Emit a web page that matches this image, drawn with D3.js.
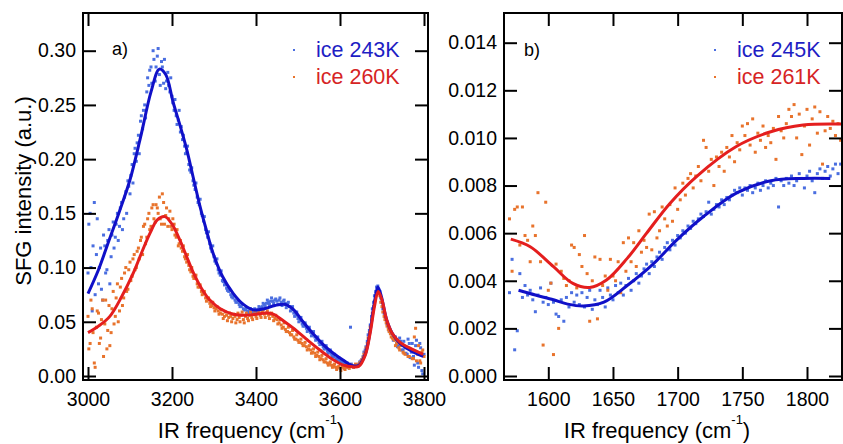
<!DOCTYPE html>
<html><head><meta charset="utf-8">
<script src="https://cdn.jsdelivr.net/npm/d3@7"></script>
<style>body{margin:0;background:#fff}svg{display:block;font-family:Arial,"Liberation Sans",sans-serif}</style>
</head><body><svg id="c" width="843" height="444"></svg>
<script>
// ---------- Panel a data (two scans per temperature) ----------
const freqA = [3000,3005,3010,3015,3020,3025,3030,3035,3040,3045,3050,3055,3060,3065,3070,3075,3080,3085,3090,3095,
3100,3105,3110,3115,3120,3125,3130,3135,3140,3145,3150,3155,3160,3165,3170,3175,3180,3185,3190,3195,
3200,3205,3210,3215,3220,3225,3230,3235,3240,3245,3250,3255,3260,3265,3270,3275,3280,3285,3290,3295,
3300,3305,3310,3315,3320,3325,3330,3335,3340,3345,3350,3355,3360,3365,3370,3375,3380,3385,3390,3395,
3400,3405,3410,3415,3420,3425,3430,3435,3440,3445,3450,3455,3460,3465,3470,3475,3480,3485,3490,3495,
3500,3505,3510,3515,3520,3525,3530,3535,3540,3545,3550,3555,3560,3565,3570,3575,3580,3585,3590,3595,
3600,3605,3610,3615,3620,3625,3630,3635,3640,3645,3650,3655,3660,3665,3670,3675,3680,3685,3690,3695,
3700,3705,3710,3715,3720,3725,3730,3735,3740,3745,3750,3755,3760,3765,3770,3775,3780,3785,3790,3795,3800];
const sfg243 = [0.095,0.150,0.060,0.160,0.112,0.085,0.118,0.070,0.120,0.098,0.135,0.110,0.142,0.128,0.150,0.138,0.160,0.145,0.170,0.180,
0.168,0.195,0.205,0.198,0.222,0.235,0.228,0.250,0.262,0.268,0.285,0.300,0.272,0.295,0.278,0.290,0.270,0.265,0.280,0.262,
0.258,0.245,0.240,0.236,0.225,0.218,0.212,0.206,0.195,0.188,0.180,0.172,0.165,0.158,0.150,0.143,0.135,0.128,0.122,0.115,
0.110,0.104,0.098,0.093,0.088,0.084,0.081,0.078,0.075,0.072,0.070,0.068,0.066,0.064,0.062,0.061,0.060,0.060,0.059,0.059,
0.060,0.061,0.063,0.064,0.066,0.067,0.068,0.069,0.069,0.070,0.069,0.070,0.068,0.069,0.067,0.066,0.064,0.061,0.058,0.056,
0.053,0.051,0.048,0.046,0.044,0.042,0.040,0.038,0.036,0.034,0.031,0.029,0.027,0.025,0.023,0.022,0.020,0.018,0.016,0.015,
0.014,0.013,0.012,0.011,0.010,0.045,0.009,0.009,0.010,0.011,0.014,0.018,0.024,0.032,0.042,0.055,0.068,0.078,0.083,0.078,
0.068,0.058,0.052,0.045,0.040,0.036,0.034,0.030,0.028,0.032,0.024,0.026,0.020,0.030,0.022,0.018,0.028,0.012,0.030,0.005,0.020];
const sfg260 = [0.055,0.030,0.062,0.012,0.045,0.058,0.035,0.070,0.048,0.025,0.065,0.040,0.078,0.055,0.085,0.060,0.090,0.072,0.100,0.080,
0.105,0.092,0.112,0.100,0.118,0.125,0.112,0.140,0.128,0.150,0.138,0.158,0.142,0.155,0.165,0.140,0.160,0.148,0.138,0.152,
0.135,0.140,0.128,0.120,0.125,0.115,0.110,0.105,0.102,0.096,0.092,0.090,0.085,0.082,0.078,0.076,0.072,0.070,0.067,0.065,
0.063,0.062,0.060,0.058,0.057,0.055,0.056,0.054,0.055,0.053,0.055,0.052,0.054,0.056,0.052,0.055,0.053,0.056,0.054,0.057,
0.055,0.058,0.056,0.059,0.057,0.058,0.056,0.057,0.055,0.053,0.052,0.049,0.047,0.045,0.043,0.041,0.040,0.038,0.036,0.034,
0.033,0.031,0.030,0.028,0.027,0.025,0.024,0.022,0.021,0.019,0.018,0.016,0.015,0.013,0.012,0.011,0.010,0.009,0.008,0.008,
0.007,0.008,0.007,0.008,0.008,0.009,0.009,0.009,0.010,0.011,0.013,0.017,0.022,0.030,0.040,0.052,0.064,0.074,0.078,0.074,
0.064,0.055,0.049,0.043,0.039,0.035,0.033,0.030,0.026,0.028,0.022,0.020,0.026,0.018,0.024,0.016,0.044,0.020,0.014,0.022,0.018];
const freqA2 = [3002,3007,3012,3017,3022,3027,3032,3037,3042,3047,3052,3057,3062,3067,3072,3077,3082,3087,3092,3097,
3102,3107,3112,3117,3122,3127,3132,3137,3142,3147,3152,3157,3162,3167,3172,3177,3182,3187,3192,3197,
3202,3207,3212,3217,3222,3227,3232,3237,3242,3247,3252,3257,3262,3267,3272,3277,3282,3287,3292,3297,
3302,3307,3312,3317,3322,3327,3332,3337,3342,3347,3352,3357,3362,3367,3372,3377,3382,3387,3392,3397,
3402,3407,3412,3417,3422,3427,3432,3437,3442,3447,3452,3457,3462,3467,3472,3477,3482,3487,3492,3497,
3502,3507,3512,3517,3522,3527,3532,3537,3542,3547,3552,3557,3562,3567,3572,3577,3582,3587,3592,3597,
3602,3607,3612,3617,3622,3627,3632,3637,3642,3647,3652,3657,3662,3667,3672,3677,3682,3687,3692,3697,
3702,3707,3712,3717,3722,3727,3732,3737,3742,3747,3752,3757,3762,3767,3772,3777,3782,3787,3792,3797];
const sfg243s2 = [0.140,0.100,0.120,0.075,0.145,0.100,0.080,0.130,0.095,0.125,0.085,0.130,0.118,0.140,0.125,0.155,0.135,0.165,0.150,0.175,
0.185,0.178,0.210,0.215,0.205,0.240,0.245,0.238,0.275,0.282,0.270,0.292,0.285,0.302,0.268,0.285,0.292,0.272,0.268,0.275,
0.252,0.255,0.232,0.245,0.230,0.222,0.205,0.212,0.190,0.192,0.176,0.178,0.160,0.163,0.148,0.147,0.132,0.133,0.118,0.120,
0.106,0.108,0.095,0.097,0.087,0.086,0.079,0.080,0.073,0.074,0.068,0.069,0.064,0.066,0.061,0.063,0.058,0.062,0.057,0.062,
0.058,0.064,0.061,0.067,0.064,0.070,0.066,0.072,0.067,0.071,0.066,0.072,0.065,0.070,0.063,0.068,0.060,0.064,0.055,0.059,
0.050,0.054,0.046,0.049,0.041,0.045,0.037,0.041,0.033,0.036,0.029,0.032,0.025,0.028,0.021,0.024,0.018,0.020,0.015,0.017,
0.012,0.014,0.010,0.012,0.009,0.011,0.008,0.010,0.009,0.013,0.015,0.022,0.027,0.038,0.047,0.062,0.074,0.082,0.080,0.072,
0.062,0.055,0.048,0.042,0.040,0.033,0.036,0.027,0.035,0.024,0.032,0.021,0.034,0.017,0.030,0.010,0.033,0.008,0.026,0.002];
const sfg260s2 = [0.025,0.070,0.040,0.008,0.060,0.030,0.052,0.018,0.070,0.042,0.028,0.062,0.048,0.072,0.050,0.082,0.065,0.095,0.078,0.098,
0.088,0.108,0.098,0.115,0.108,0.128,0.138,0.122,0.145,0.135,0.155,0.145,0.158,0.150,0.145,0.168,0.140,0.155,0.145,0.138,
0.145,0.130,0.135,0.122,0.118,0.120,0.108,0.112,0.098,0.100,0.090,0.093,0.082,0.084,0.075,0.078,0.069,0.072,0.064,0.068,
0.060,0.064,0.057,0.061,0.053,0.059,0.051,0.058,0.050,0.057,0.049,0.058,0.050,0.059,0.049,0.058,0.051,0.059,0.052,0.060,
0.053,0.060,0.054,0.061,0.054,0.060,0.053,0.058,0.051,0.056,0.048,0.052,0.044,0.049,0.041,0.045,0.038,0.042,0.034,0.038,
0.031,0.034,0.028,0.031,0.024,0.028,0.021,0.025,0.018,0.022,0.015,0.019,0.013,0.016,0.010,0.013,0.008,0.011,0.006,0.009,
0.005,0.009,0.006,0.010,0.007,0.010,0.008,0.011,0.009,0.012,0.015,0.020,0.026,0.035,0.045,0.058,0.069,0.077,0.076,0.068,
0.059,0.052,0.046,0.041,0.036,0.034,0.028,0.031,0.024,0.029,0.021,0.027,0.018,0.025,0.016,0.036,0.014,0.028,0.012,0.024];
const fitFreq243 = [3000,3025,3050,3075,3100,3125,3150,3170,3185,3203,3220,3235,3250,3267,3283,3298,3320,3346,3370,3394,
3420,3445,3470,3490,3510,3536,3560,3584,3610,3630,3645,3660,3672,3682,3690,3698,3711,3725,3743,3770,3798];
const fit243 = [0.076,0.098,0.125,0.152,0.181,0.220,0.262,0.283,0.278,0.252,0.230,0.209,0.184,0.156,0.133,0.113,0.092,0.076,0.066,0.061,
0.062,0.065,0.066,0.061,0.051,0.039,0.029,0.021,0.014,0.0095,0.010,0.020,0.042,0.068,0.082,0.074,0.052,0.039,0.030,0.023,0.018];
const fitFreq260 = [3000,3025,3052,3080,3108,3130,3148,3165,3183,3200,3219,3235,3251,3270,3290,3315,3346,3375,3400,3425,
3441,3465,3489,3520,3552,3580,3608,3630,3645,3660,3672,3682,3691,3700,3711,3725,3743,3770,3798];
const fit260 = [0.040,0.046,0.055,0.073,0.095,0.116,0.132,0.144,0.147,0.140,0.125,0.110,0.095,0.081,0.070,0.062,0.057,0.056,0.057,0.058,
0.057,0.051,0.044,0.034,0.024,0.016,0.010,0.0085,0.009,0.019,0.040,0.064,0.078,0.070,0.052,0.039,0.031,0.025,0.020];

// ---------- Panel b data ----------
const freqB = [1570,1572,1574,1576,1578,1580,1582,1584,1586,1588,1590,1592,1594,1596,1598,1600,1602,1604,1606,1608,
1610,1612,1614,1616,1618,1620,1622,1624,1626,1628,1630,1632,1634,1636,1638,1640,1642,1644,1646,1648,
1650,1652,1654,1656,1658,1660,1662,1664,1666,1668,1670,1672,1674,1676,1678,1680,1682,1684,1686,1688,
1690,1692,1694,1696,1698,1700,1702,1704,1706,1708,1710,1712,1714,1716,1718,1720,1722,1724,1726,1728,
1730,1732,1734,1736,1738,1740,1742,1744,1746,1748,1750,1752,1754,1756,1758,1760,1762,1764,1766,1768,
1770,1772,1774,1776,1778,1780,1782,1784,1786,1788,1790,1792,1794,1796,1798,1800,1802,1804,1806,1808,
1810,1812,1814,1816,1818,1820,1822,1824,1826,1828];
const sfg245 = [0.0035,0.0049,0.0011,0.0019,0.0043,0.0033,0.0038,0.0034,0.0036,0.0032,0.0027,0.0034,0.0037,0.0031,0.0033,0.0030,0.0039,0.0031,0.0026,0.0025,
0.0032,0.0023,0.0033,0.0029,0.0035,0.0031,0.0034,0.0030,0.0035,0.0029,0.0033,0.0036,0.0028,0.0032,0.0030,0.0036,0.0033,0.0029,0.0037,0.0034,
0.0032,0.0038,0.0035,0.0039,0.0034,0.0038,0.0041,0.0036,0.0040,0.0043,0.0039,0.0042,0.0045,0.0047,0.0043,0.0048,0.0046,0.0050,0.0052,0.0049,
0.0054,0.0056,0.0053,0.0057,0.0055,0.0059,0.0058,0.0061,0.0060,0.0063,0.0062,0.0065,0.0064,0.0066,0.0068,0.0067,0.0069,0.0073,0.0068,0.0070,
0.0072,0.0071,0.0074,0.0072,0.0075,0.0074,0.0076,0.0078,0.0077,0.0079,0.0076,0.0079,0.0078,0.0080,0.0077,0.0079,0.0081,0.0078,0.0080,0.0082,
0.0079,0.0081,0.0080,0.0083,0.0071,0.0082,0.0080,0.0083,0.0081,0.0084,0.0080,0.0082,0.0085,0.0083,0.0079,0.0084,0.0086,0.0082,0.0077,0.0085,
0.0087,0.0083,0.0086,0.0088,0.0084,0.0087,0.0089,0.0085,0.0089,0.0087];
const sfg261 = [0.0066,0.0044,0.0070,0.0071,0.0055,0.0071,0.0059,0.0057,0.0048,0.0063,0.0059,0.0077,0.0048,0.0013,0.0073,0.0036,0.0039,0.0009,0.0047,0.0020,
0.0044,0.0041,0.0038,0.0040,0.0055,0.0054,0.0037,0.0051,0.0046,0.0059,0.0043,0.0023,0.0040,0.0050,0.0024,0.0049,0.0038,0.0042,0.0036,0.0049,
0.0042,0.0040,0.0048,0.0035,0.0056,0.0044,0.0058,0.0048,0.0056,0.0046,0.0061,0.0052,0.0057,0.0054,0.0068,0.0053,0.0069,0.0058,0.0061,0.0071,
0.0066,0.0063,0.0072,0.0065,0.0079,0.0070,0.0074,0.0081,0.0076,0.0083,0.0085,0.0079,0.0084,0.0088,0.0082,0.0099,0.0096,0.0086,0.0091,0.0080,
0.0092,0.0088,0.0094,0.0086,0.0096,0.0092,0.0101,0.0090,0.0098,0.0095,0.0105,0.0101,0.0106,0.0097,0.0108,0.0094,0.0102,0.0099,0.0105,0.0096,
0.0101,0.0098,0.0104,0.0091,0.0109,0.0103,0.0100,0.0106,0.0112,0.0109,0.0114,0.0100,0.0110,0.0093,0.0105,0.0112,0.0097,0.0108,0.0113,0.0102,
0.0111,0.0089,0.0103,0.0109,0.0104,0.0107,0.0101,0.0106,0.0099,0.0096];
const fitFreq245 = [1577,1590,1604,1615,1627,1643,1661,1681,1699,1720,1746,1772,1797,1818];
const fit245 = [0.0036,0.0034,0.0032,0.00302,0.00294,0.0031,0.0038,0.0047,0.0057,0.0067,0.0077,0.0082,0.0083,0.0083];
const fitFreq261 = [1571,1586,1604,1619,1632,1645,1661,1676,1694,1715,1745,1772,1797,1827];
const fit261 = [0.00575,0.00543,0.00459,0.00389,0.00372,0.00403,0.00494,0.0060,0.00725,0.0084,0.00963,0.01026,0.01054,0.01058];

// ---------- ticks & labels ----------
const ticksAx = [3000,3200,3400,3600,3800];
const ticksAy = [0,0.05,0.10,0.15,0.20,0.25,0.30];
const ticksBx = [1600,1650,1700,1750,1800];
const ticksBy = [0,0.002,0.004,0.006,0.008,0.010,0.012,0.014];
const legendA = ["ice 243K","ice 260K"];
const legendB = ["ice 245K","ice 261K"];
const yTitle = "SFG intensity (a.u.)";

const COL = {ptBlue:"#4a6ee0", ptOrange:"#e8732c", lnBlue:"#1010c8", lnRed:"#e41e1e", txBlue:"#1e1ec4", txRed:"#d62424"};
const svg = d3.select("#c");

function panel(o){
  const g = svg.append("g");
  const x = d3.scaleLinear().domain(o.xd).range(o.xr);
  const y = d3.scaleLinear().domain(o.yd).range(o.yr);
  const f = o.frame;
  const cid = "clip"+o.id;
  svg.append("clipPath").attr("id",cid).append("rect")
    .attr("x",f.l).attr("y",f.t).attr("width",f.r-f.l).attr("height",f.b-f.t);
  const plot = g.append("g").attr("clip-path",`url(#${cid})`);
  const sz = 3;
  o.pts.forEach(p=>{
    plot.append("g").selectAll("rect").data(p.ys.map((v,i)=>[p.xs[i],v])).join("rect")
      .attr("x",d=>x(d[0])-sz/2).attr("y",d=>y(d[1])-sz/2).attr("width",sz).attr("height",sz)
      .attr("fill",p.c);
  });
  const line = d3.line().x(d=>x(d[0])).y(d=>y(d[1])).curve(d3.curveCatmullRom.alpha(0.5));
  o.fits.forEach(p=>{
    plot.append("path").datum(p.ys.map((v,i)=>[p.xs[i],v])).attr("d",line)
      .attr("fill","none").attr("stroke",p.c).attr("stroke-width",3).attr("stroke-linejoin","round");
  });
  const T = 13;
  const style = a=>{a.select(".domain").remove(); a.selectAll("line").attr("stroke","#000").attr("stroke-width",2);
    a.selectAll("text").attr("fill","#000").style("font-size","19.5px").style("font-family","Arial, 'Liberation Sans', sans-serif");};
  g.append("g").attr("transform",`translate(${f.l},0)`)
    .call(d3.axisLeft(y).tickValues(o.yt).tickSize(-T).tickPadding(7).tickFormat(d3.format(o.yf))).call(style);
  g.append("g").attr("transform",`translate(${f.r},0)`)
    .call(d3.axisRight(y).tickValues(o.yt).tickSize(-T).tickFormat("")).call(style);
  g.append("g").attr("transform",`translate(0,${f.b})`)
    .call(d3.axisBottom(x).tickValues(o.xt).tickSize(-T).tickPadding(12).tickFormat(d3.format("d"))).call(style);
  g.append("g").attr("transform",`translate(0,${f.t})`)
    .call(d3.axisTop(x).tickValues(o.xt).tickSize(-T).tickFormat("")).call(style);
  g.append("rect").attr("x",f.l).attr("y",f.t).attr("width",f.r-f.l).attr("height",f.b-f.t)
    .attr("fill","none").attr("stroke","#000").attr("stroke-width",2);
  g.append("text").attr("x",o.lab[0]).attr("y",o.lab[1]).text(o.lab[2]).style("font-size","18px").attr("fill","#000");
  o.leg.forEach((t,i)=>{
    g.append("rect").attr("x",o.legX-23).attr("y",o.legY[i]-8).attr("width",2).attr("height",2).attr("fill",o.legPt[i]);
    g.append("text").attr("x",o.legX).attr("y",o.legY[i]).text(t).attr("fill",o.legTx[i]).style("font-size","21.5px");
  });
  const xt = g.append("text").attr("x",o.xtX).attr("y",438).attr("text-anchor","middle").style("font-size","22px").attr("fill","#000");
  xt.append("tspan").text("IR frequency (cm");
  xt.append("tspan").attr("dy",-14).style("font-size","13px").text("-1");
  xt.append("tspan").attr("dy",14).text(")");
  return {x,y};
}

panel({id:"a", xd:[3000,3800], xr:[88,424], yd:[0,0.30], yr:[376,50.7], frame:{l:83,r:428,t:13,b:380},
  xt:ticksAx, yt:ticksAy, yf:".2f",
  pts:[{xs:freqA,ys:sfg243,c:COL.ptBlue},{xs:freqA2,ys:sfg243s2,c:COL.ptBlue},
       {xs:freqA,ys:sfg260,c:COL.ptOrange},{xs:freqA2,ys:sfg260s2,c:COL.ptOrange}],
  fits:[{xs:fitFreq243,ys:fit243,c:COL.lnBlue},{xs:fitFreq260,ys:fit260,c:COL.lnRed}],
  lab:[112,55,"a)"], leg:legendA, legX:316, legY:[57,84], legPt:[COL.ptBlue,COL.ptOrange], legTx:[COL.txBlue,COL.txRed],
  xtX:251});
panel({id:"b", xd:[1600,1800], xr:[548.3,807], yd:[0,0.014], yr:[376,42.7], frame:{l:504,r:842,t:13,b:380},
  xt:ticksBx, yt:ticksBy, yf:".3f",
  pts:[{xs:freqB,ys:sfg245,c:COL.ptBlue},{xs:freqB,ys:sfg261,c:COL.ptOrange}],
  fits:[{xs:fitFreq245,ys:fit245,c:COL.lnBlue},{xs:fitFreq261,ys:fit261,c:COL.lnRed}],
  lab:[524,56,"b)"], leg:legendB, legX:737, legY:[57,84], legPt:[COL.ptBlue,COL.ptOrange], legTx:[COL.txBlue,COL.txRed],
  xtX:657});

svg.append("text").attr("transform","translate(31,191) rotate(-90)").attr("text-anchor","middle")
  .style("font-size","22px").attr("fill","#000").text(yTitle);
</script></body></html>
